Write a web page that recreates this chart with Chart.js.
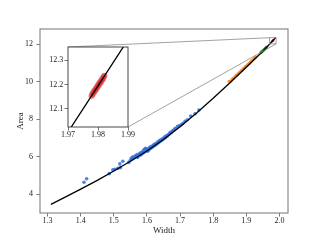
<!DOCTYPE html>
<html><head><meta charset="utf-8">
<script src="https://cdn.jsdelivr.net/npm/chart.js@4"></script>
<style>
html,body{margin:0;padding:0;background:#fff;}
#wrap{position:relative;width:320px;height:240px;overflow:hidden;}
#main{position:absolute;left:0;top:0;}
#ins{position:absolute;left:38px;top:40px;}
</style>
</head><body>
<div id="wrap"><canvas id="main" width="320" height="240"></canvas><canvas id="ins" width="100" height="100"></canvas></div>
<script>
// ---- data ----
const curveW = [1.31,1.35,1.40,1.45,1.50,1.55,1.60,1.65,1.70,1.75,1.80,1.85,1.90,1.95,1.97,1.989];
const curveA = [3.46,3.82,4.27,4.74,5.24,5.76,6.31,6.92,7.60,8.34,9.12,9.94,10.78,11.63,12.004,12.366];

const blueW = [1.410,1.418,1.486,1.497,1.503,1.512,1.518,1.520,1.527,1.545,1.550,1.553,1.556,1.558,1.562,1.565,1.568,1.570,1.572,1.575,1.578,1.580,1.583,1.585,1.588,1.590,1.592,1.594,1.596,1.598,1.600,1.602,1.604,1.606,1.608,1.610,1.613,1.615,1.618,1.620,1.622,1.625,1.628,1.630,1.633,1.635,1.638,1.640,1.643,1.645,1.648,1.650,1.653,1.656,1.658,1.661,1.664,1.667,1.670,1.673,1.676,1.680,1.684,1.688,1.692,1.697,1.702,1.708,1.715,1.722,1.732,1.745,1.757];
const blueA = [4.64,4.83,5.10,5.30,5.33,5.38,5.62,5.42,5.76,5.70,5.82,5.93,5.88,6.00,5.95,6.05,6.02,6.12,5.96,6.10,6.18,6.08,6.22,6.15,6.30,6.22,6.40,6.28,6.45,6.33,6.38,6.30,6.42,6.36,6.50,6.44,6.55,6.48,6.60,6.56,6.66,6.62,6.72,6.68,6.80,6.75,6.86,6.82,6.92,6.88,6.98,6.95,7.05,7.02,7.12,7.10,7.18,7.22,7.30,7.28,7.38,7.42,7.50,7.52,7.62,7.66,7.70,7.78,7.90,7.98,8.18,8.30,8.50];

const orangeW = [1.848,1.853,1.858,1.862,1.866,1.870,1.873,1.877,1.880,1.884,1.887,1.891,1.894,1.898,1.901,1.905,1.908,1.912,1.916,1.920,1.924,1.928];
const orangeA = [10.02,10.05,10.16,10.20,10.28,10.36,10.38,10.47,10.50,10.59,10.62,10.70,10.74,10.82,10.86,10.93,10.98,11.05,11.12,11.18,11.26,11.33];

const greenW = [1.944,1.946,1.948,1.950,1.952,1.954,1.956,1.958,1.960,1.962];
const greenA = [11.56,11.60,11.62,11.66,11.69,11.72,11.76,11.79,11.83,11.86];

const redW = [1.9778,1.9780,1.9782,1.9784,1.9786,1.9788,1.9790,1.9792,1.9794,1.9796,1.9798,1.9800,1.9802,1.9804,1.9806,1.9808,1.9810,1.9812,1.9814,1.9816,1.9818,1.9820,1.9822];
const redA = [12.152,12.160,12.158,12.168,12.166,12.176,12.174,12.183,12.180,12.191,12.188,12.198,12.195,12.206,12.203,12.213,12.210,12.221,12.218,12.228,12.225,12.235,12.236];

const xTicks = [1.3,1.4,1.5,1.6,1.7,1.8,1.9,2.0];
const yTicks = [4,6,8,10,12];
const insXTicks = [1.97,1.98,1.99];
const insYTicks = [12.1,12.2,12.3];
const zoomBox = {x0:1.97, x1:1.99, y0:12.025, y1:12.355};

// ---- helpers ----
const pts = (w,a) => w.map((v,i)=>({x:v,y:a[i]}));
const FONT = 'Liberation Serif';
const framePlugin = {
  id:'frame',
  afterDatasetsDraw(chart, args, o){
    const {ctx, chartArea:a} = chart;
    ctx.save(); ctx.strokeStyle=o.color; ctx.lineWidth=o.width;
    ctx.strokeRect(a.left, a.top, a.right-a.left, a.bottom-a.top);
    ctx.restore();
  }
};
const bgPlugin = {
  id:'bg',
  beforeDraw(chart, args, o){
    if(!o.fill) return;
    const {ctx, chartArea:a} = chart;
    ctx.save(); ctx.fillStyle=o.fill; ctx.fillRect(a.left,a.top,a.right-a.left,a.bottom-a.top); ctx.restore();
  }
};
function axis(min,max,ticks,fmt,fixed,pad,opts){
  return Object.assign({
    type:'linear', min, max,
    afterBuildTicks: s => { s.ticks = ticks.map(v=>({value:v})); },
    afterFit: s => { if (s.isHorizontal()) s.height = fixed; else s.width = fixed; },
    ticks:{autoSkip:false, maxRotation:0, callback:v=>v.toFixed(fmt), font:{family:FONT,size:8}, color:'#222', padding:pad},
    grid:{display:true, drawOnChartArea:false, drawTicks:true, tickLength:3.5, color:'#555', lineWidth:0.8},
    border:{display:false}
  }, opts||{});
}

// ---- inset chart ----
const insChart = new Chart(document.getElementById('ins'), {
  type:'scatter',
  data:{datasets:[
    {type:'line', data:pts(curveW,curveA), borderColor:'#000', borderWidth:1.3, pointRadius:0, tension:0},
    {data:pts(redW,redA), pointRadius:3, pointBorderWidth:0, backgroundColor:'rgba(214,39,40,0.45)'}
  ]},
  options:{
    responsive:false, animation:false, events:[],
    layout:{padding:{left:0,top:7,right:10,bottom:0}},
    plugins:{legend:{display:false}, tooltip:{enabled:false}, frame:{color:'#333',width:0.9}, bg:{fill:'#fff'}},
    scales:{
      x: axis(zoomBox.x0, zoomBox.x1, insXTicks, 2, 13, 0),
      y: axis(zoomBox.y0, zoomBox.y1, insYTicks, 1, 30, 1.2)
    }
  },
  plugins:[bgPlugin, framePlugin]
});

// ---- main chart ----
const markPlugin = {
  id:'mark',
  afterDatasetsDraw(chart){
    const {ctx, scales:{x,y}} = chart;
    const px0 = x.getPixelForValue(zoomBox.x0), px1 = x.getPixelForValue(zoomBox.x1);
    const py0 = y.getPixelForValue(zoomBox.y0), py1 = y.getPixelForValue(zoomBox.y1);
    const ia = insChart.chartArea, ox = 38, oy = 40;
    ctx.save(); ctx.strokeStyle='#8a8a8a'; ctx.lineWidth=0.8;
    ctx.strokeRect(px0, py1, px1-px0, py0-py1);
    ctx.beginPath();
    ctx.moveTo(ia.left+ox, ia.top+oy); ctx.lineTo(px0, py1);
    ctx.moveTo(ia.right+ox, ia.bottom+oy); ctx.lineTo(px1, py0);
    ctx.stroke();
    ctx.restore();
  }
};
new Chart(document.getElementById('main'), {
  type:'scatter',
  data:{datasets:[
    {type:'line', data:pts(curveW,curveA), borderColor:'#000', borderWidth:1.3, pointRadius:0, tension:0},
    {data:pts(redW,redA), pointRadius:1, pointBorderWidth:0, backgroundColor:'rgba(214,39,40,0.35)'},
    {data:pts(greenW,greenA), pointRadius:1.6, pointBorderWidth:0, backgroundColor:'rgba(44,160,44,0.85)'},
    {data:pts(orangeW,orangeA), pointRadius:1.6, pointBorderWidth:0, backgroundColor:'rgba(255,127,14,0.85)'},
    {data:pts(blueW,blueA), pointRadius:1.8, pointBorderWidth:0, backgroundColor:'rgba(50,110,220,0.85)'}
  ]},
  options:{
    responsive:false, animation:false, events:[],
    layout:{padding:{left:0,top:29,right:32,bottom:0}},
    plugins:{legend:{display:false}, tooltip:{enabled:false}, frame:{color:'#8a8a8a',width:1.2}},
    scales:{
      x: axis(1.277, 2.026, xTicks, 1, 27, 0, {title:{display:true, text:'Width', font:{family:FONT,size:9}, color:'#222', padding:{top:0,bottom:3.6}}}),
      y: axis(3.0, 12.82, yTicks, 0, 40, 3.5, {title:{display:true, text:'Area', font:{family:FONT,size:9}, color:'#222', padding:{top:15,bottom:0}}})
    }
  },
  plugins:[framePlugin, markPlugin]
});
</script>
</body></html>
